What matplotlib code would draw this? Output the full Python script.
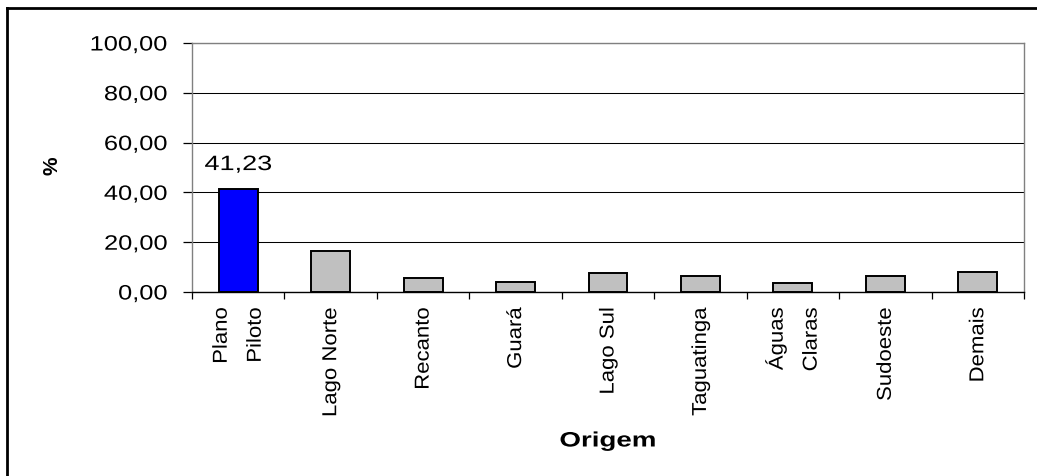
import matplotlib
matplotlib.use("Agg")
import matplotlib.pyplot as plt
from matplotlib.lines import Line2D
from matplotlib.patheffects import AbstractPathEffect
from matplotlib.transforms import Affine2D
from matplotlib.ticker import FuncFormatter

# Share of visitors by place of origin (%)
categories = ["Plano\nPiloto", "Lago Norte", "Recanto", "Guará", "Lago Sul",
              "Taguatinga", "Águas\nClaras", "Sudoeste", "Demais"]
values = [41.23, 16.6, 5.7, 4.1, 7.6, 6.3, 3.6, 6.3, 8.2]
y_ticks = [0, 20, 40, 60, 80, 100]
highlight = "Plano\nPiloto"


class Stretch(AbstractPathEffect):
    """Widen glyphs along the reading direction, keeping one end fixed."""

    def __init__(self, sx, anchor="center"):
        super().__init__()
        self.sx = sx
        self.anchor = anchor

    def draw_path(self, renderer, gc, tpath, affine, rgbFace=None):
        ext = tpath.get_extents()
        pivot = {"left": ext.x0, "right": ext.x1,
                 "center": 0.5 * (ext.x0 + ext.x1)}[self.anchor]
        pre = Affine2D().translate(-pivot, 0).scale(self.sx, 1).translate(pivot, 0)
        renderer.draw_path(gc, tpath, pre + affine, rgbFace)


def comma_fmt(v, _pos=None):
    return f"{v:.2f}".replace(".", ",")


plt.rcParams["font.family"] = ["Liberation Sans", "DejaVu Sans"]

W, H = 1037, 477
fig = plt.figure(figsize=(W / 100, H / 100), dpi=100)
ax = fig.add_axes([192 / W, 1 - 293 / H, 832 / W, 249 / H])

x = list(range(len(categories)))
colors = ["#0000FF" if c == highlight else "#C0C0C0" for c in categories]
ax.bar(x, values, width=0.42, color=colors, edgecolor="black",
       linewidth=1.4, zorder=3)

ax.set_xlim(-0.5, len(categories) - 0.5)
ax.set_ylim(y_ticks[0], y_ticks[-1])
ax.set_yticks(y_ticks)
ax.yaxis.set_major_formatter(FuncFormatter(comma_fmt))
ax.grid(axis="y", color="black", linewidth=0.75, zorder=0)

for side in ("left", "top", "right"):
    ax.spines[side].set_color("#808080")
    ax.spines[side].set_linewidth(1.0)
ax.spines["bottom"].set_color("black")
ax.spines["bottom"].set_linewidth(1.0)
ax.spines["bottom"].set_zorder(4)

ax.tick_params(axis="y", length=6.5, width=0.9, color="black", pad=11,
               labelsize=15)
ax.set_xticks(x)
ax.set_xticklabels(categories, rotation=90, va="top", ha="center",
                   multialignment="right", fontsize=14.5, linespacing=2.0)
ax.set_xticks([i - 0.5 for i in range(len(categories) + 1)], minor=True)
ax.tick_params(axis="x", which="major", length=0, pad=11)
ax.tick_params(axis="x", which="minor", length=5, width=0.9, color="black")

# value label over the highlighted bar
hi = categories.index(highlight)
ax.annotate(comma_fmt(values[hi]), xy=(hi, values[hi]), xytext=(0, 11),
            textcoords="offset points", ha="center", va="bottom",
            fontsize=15, path_effects=[Stretch(1.3, "center")])

fig.text(608 / W, 1 - 442 / H, "Origem", ha="center", va="center",
         fontsize=15, fontweight="bold", path_effects=[Stretch(1.33, "center")])
fig.text(52 / W, 1 - 166 / H, "%", ha="center", va="center", rotation=90,
         fontsize=15, fontweight="bold")

# outer frame (top and left edges)
fig.add_artist(Line2D([7 / W, 1.0], [1 - 8.5 / H, 1 - 8.5 / H],
                      transform=fig.transFigure, color="black", linewidth=2))
fig.add_artist(Line2D([7 / W, 7 / W], [0.0, 1 - 8.5 / H],
                      transform=fig.transFigure, color="black", linewidth=2))

fig.canvas.draw()
for lab in ax.get_yticklabels():
    lab.set_path_effects([Stretch(1.22, "right")])
for lab in ax.get_xticklabels():
    lab.set_path_effects([Stretch(1.1, "right")])

fig.savefig("out.png", dpi=100)
